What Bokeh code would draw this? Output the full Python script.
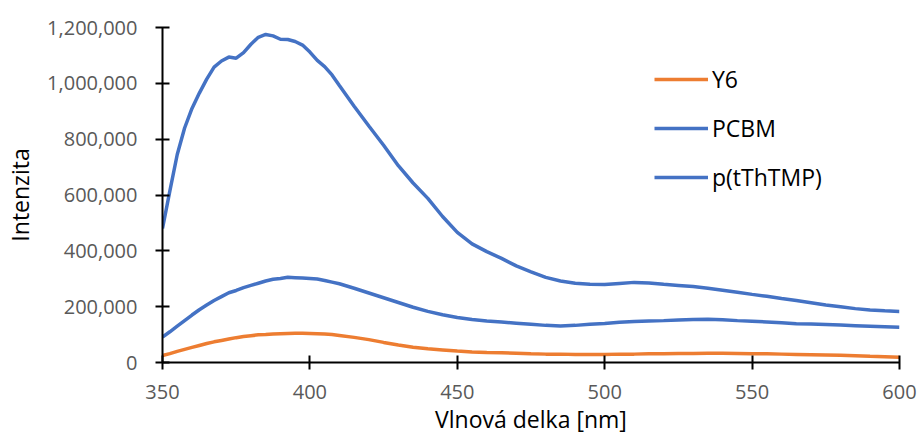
from bokeh.plotting import figure
from bokeh.models import FixedTicker, NumeralTickFormatter, Legend, LegendItem, Range1d
from bokeh.embed import file_html
from bokeh.resources import INLINE

wavelength = [350, 352.5, 355, 357.5, 360, 362.5, 365, 367.5, 370, 372.5, 375, 377.5,
              380, 382.5, 385, 387.5, 390, 392.5, 395, 397.5, 400, 402.5, 405, 407.5, 410,
              415, 420, 425, 430, 435, 440, 445, 450, 455, 460, 465, 470, 475, 480, 485,
              490, 495, 500, 505, 510, 515, 520, 525, 530, 535, 540, 545, 550, 555, 560,
              565, 570, 575, 580, 585, 590, 595, 600]

y6 = [25, 32, 40, 47, 54, 61, 68, 74, 79, 84, 89, 93,
      96, 99, 100, 102, 103, 104, 105, 105, 104, 103, 102, 100, 97,
      90, 82, 72, 63, 55, 49, 45, 41, 38, 36, 35, 33, 31, 30, 30,
      29, 29, 29, 30, 30, 31, 31, 32, 32, 33, 33, 32, 31, 31, 30,
      29, 28, 27, 26, 24, 22, 21, 19]

pcbm = [91, 110, 130, 150, 170, 189, 206, 222, 236, 250, 258, 268,
        276, 284, 292, 298, 301, 305, 304, 303, 301, 299, 294, 288, 282,
        266, 249, 232, 215, 198, 183, 171, 161, 154, 149, 145, 141, 137, 133, 131,
        133, 137, 140, 144, 147, 149, 150, 152, 154, 155, 153, 150, 148, 145, 142,
        139, 138, 136, 134, 132, 130, 128, 126]

pttm = [480, 615, 745, 840, 910, 965, 1015, 1058, 1080, 1094, 1090, 1110,
        1140, 1165, 1175, 1170, 1158, 1157, 1150, 1137, 1112, 1082, 1060, 1030, 992,
        918, 847, 778, 705, 643, 588, 523, 466, 425, 397, 373, 346, 325, 305, 292,
        284, 280, 279, 283, 287, 285, 280, 276, 272, 266, 259, 252, 244, 237, 229,
        222, 214, 206, 200, 193, 188, 185, 183]

series_names = ["Y6", "PCBM", "p(tThTMP)"]
series_colors = ["#ED7D31", "#4472C4", "#4472C4"]
x_ticks = [350, 400, 450, 500, 550, 600]
y_ticks = [0, 200000, 400000, 600000, 800000, 1000000, 1200000]
x_title = "Vlnová delka [nm]"
y_title = "Intenzita"

FONT = "Open Sans"

p = figure(width=920, height=443, output_backend="svg", toolbar_location=None,
           x_range=Range1d(350, 600), y_range=Range1d(0, 1200000),
           min_border_left=162, min_border_right=21, min_border_top=27, min_border_bottom=81)
p.outline_line_color = None
p.xgrid.visible = False
p.ygrid.visible = False
p.background_fill_color = "white"
p.border_fill_color = "white"

data = [y6, pcbm, pttm]
renderers = []
for name, col, vals in zip(series_names, series_colors, data):
    r = p.line(wavelength, [v * 1000 for v in vals], line_color=col, line_width=3.5)
    renderers.append((name, r))

for ax in (p.xaxis[0], p.yaxis[0]):
    ax.axis_line_color = "black"
    ax.axis_line_width = 2
    ax.major_tick_line_color = "black"
    ax.major_tick_line_width = 2
    ax.major_tick_in = 7
    ax.major_tick_out = 7
    ax.minor_tick_line_color = None
    ax.major_label_text_font = FONT
    ax.major_label_text_font_size = "20px"
    ax.major_label_text_color = "#595959"
    ax.axis_label_text_font = FONT
    ax.axis_label_text_font_size = "23px"
    ax.axis_label_text_color = "black"
    ax.axis_label_text_font_style = "normal"

p.xaxis[0].ticker = FixedTicker(ticks=x_ticks)
p.yaxis[0].ticker = FixedTicker(ticks=y_ticks)
p.yaxis[0].formatter = NumeralTickFormatter(format="0,0")
p.xaxis[0].major_label_standoff = 15
p.yaxis[0].major_label_standoff = 18
p.xaxis[0].axis_label = x_title
p.yaxis[0].axis_label = y_title
p.xaxis[0].axis_label_standoff = 1
p.yaxis[0].axis_label_standoff = 8

legend = Legend(items=[LegendItem(label=n, renderers=[r]) for n, r in renderers],
                location=(492, 169))
legend.glyph_width = 54
legend.glyph_height = 24
legend.label_height = 24
legend.spacing = 17
legend.label_standoff = 4
legend.padding = 0
legend.margin = 0
legend.border_line_color = None
legend.background_fill_alpha = 0
legend.label_text_font = FONT
legend.label_text_font_size = "23px"
legend.label_text_color = "black"
p.add_layout(legend, "center")

open("out.html", "w").write(file_html(p, INLINE))
